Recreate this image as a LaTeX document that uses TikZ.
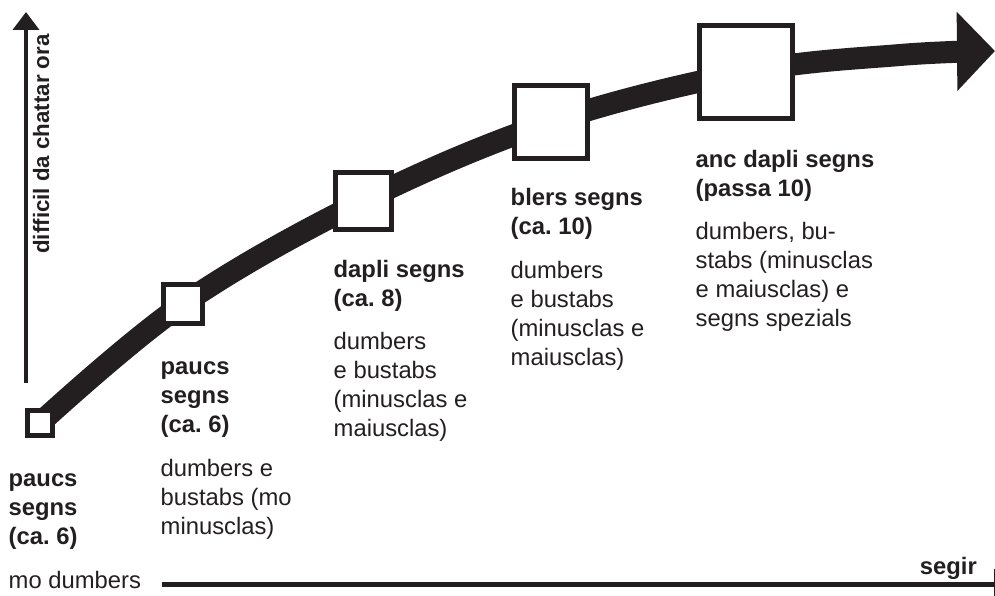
\documentclass[tikz,border=0pt]{standalone}
\usepackage{fontspec}
\setmainfont{Liberation Sans}
\usetikzlibrary{arrows.meta,positioning}
\definecolor{ink}{RGB}{35,31,32}
\tikzstyle{sqbox}=[draw=ink,fill=white,line width=5pt,rectangle,inner sep=0pt]
\tikzstyle{stage}=[align=left,anchor=base west,inner sep=0pt]

\begin{document}
\begin{tikzpicture}[x=1pt,y=-1pt,color=ink,font=\fontsize{23.8}{29}\selectfont]
\useasboundingbox (0,0) rectangle (995,596);
% points on the curve
\coordinate (c1) at (40,423);
\coordinate (c2) at (183,304);
\coordinate (c3) at (363,201);
\coordinate (c4) at (551,122);
\coordinate (c5) at (746,72);
\coordinate (c6) at (900,55);
\coordinate (tip) at (995,51);
\draw[line width=22pt,-{Triangle[width=77pt,length=38pt]}] plot[smooth,tension=0.6] coordinates {(c1) (c2) (c3) (c4) (c5) (c6) (tip)};
% squares
\node[sqbox,minimum size=25pt] (s1) at (c1) {};
\node[sqbox,minimum size=39pt] (s2) at (c2) {};
\node[sqbox,minimum size=56pt] (s3) at (c3) {};
\node[sqbox,minimum size=73pt] (s4) at (c4) {};
\node[sqbox,minimum size=93pt] (s5) at (c5) {};
% axes
\coordinate (y0) at (26,383);
\coordinate (y1) at (26,12);
\draw[line width=4pt,-{Triangle[width=26pt,length=18pt]}] (y0) -- (y1);
\node[rotate=90,anchor=base,inner sep=0pt] (ylab) at (49,144) {\fontsize{22.3}{27}\selectfont\bfseries difficil da chattar ora};
\coordinate (x0) at (162,584);
\coordinate (x1) at (995,584);
\draw[line width=5pt] (x0) -- (x1);
\coordinate (t0) at (994.3,569);
\coordinate (t1) at (994.3,596);
\draw[line width=0.8pt] (t0) -- (t1);
\node[anchor=base east,inner sep=0pt] (xlab) at (977,574) {\bfseries segir};
% labels (placed by the baseline of their last line)
\node[stage] (p1) at (8.5,588) {\textbf{paucs}\\\textbf{segns}\\\textbf{(ca.~6)}\\[14.5pt]mo dumbers};
\node[stage] (p2) at (160.5,534) {\textbf{paucs}\\\textbf{segns}\\\textbf{(ca.~6)}\\[14.5pt]dumbers e\\bustabs (mo\\minusclas)};
\node[stage] (p3) at (333.5,436.7) {\textbf{dapli segns}\\\textbf{(ca.~8)}\\[14.5pt]dumbers\\e bustabs\\(minusclas e\\maiusclas)};
\node[stage] (p4) at (510.5,365) {\textbf{blers segns}\\\textbf{(ca.~10)}\\[14.5pt]dumbers\\e bustabs\\(minusclas e\\maiusclas)};
\node[stage] (p5) at (695.5,326.7) {\textbf{anc dapli segns}\\\textbf{(passa 10)}\\[14.5pt]dumbers, bu-\\stabs (minusclas\\e maiusclas) e\\segns spezials};
\end{tikzpicture}
\end{document}
